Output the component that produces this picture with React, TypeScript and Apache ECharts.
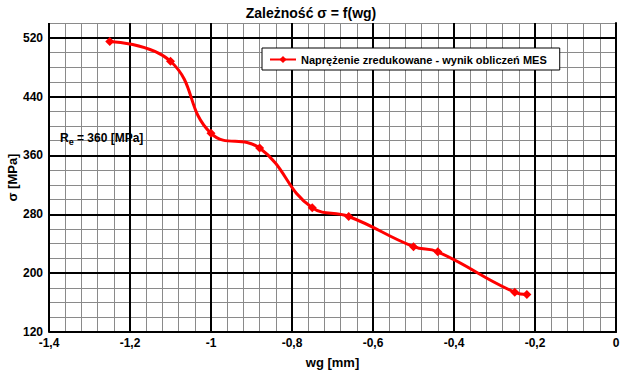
import React, { useEffect, useRef } from "react";
import * as echarts from "echarts";

const xValues = [-1.25, -1.1, -1.0, -0.88, -0.75, -0.66, -0.5, -0.44, -0.25, -0.22];
const yValues = [515, 488, 390, 370, 289, 277, 236, 229, 174, 171];
const seriesName = "Naprężenie zredukowane - wynik obliczeń MES";
const titleText = "Zależność σ = f(wg)";
const xName = "wg [mm]";
const yName = "σ [MPa]";
const FONT = "'Liberation Sans', Arial, sans-serif";

const fmtX = (v: number) => {
  const r = Math.round(v * 100) / 100;
  if (Math.abs(r * 5 - Math.round(r * 5)) > 1e-6) return "";
  return String(Math.round(r * 10) / 10).replace(".", ",");
};
const fmtY = (v: number) => {
  const r = Math.round(v);
  if ((r - 120) % 80 !== 0 || r > 520) return "";
  return String(r);
};

export default function App() {
  const ref = useRef<HTMLDivElement>(null);
  useEffect(() => {
    if (!ref.current) return;
    const chart = echarts.init(ref.current, undefined, { renderer: "svg" });
    chart.setOption({
      animation: false,
      backgroundColor: "#fff",
      textStyle: { fontFamily: FONT },
      title: {
        text: titleText,
        left: "center",
        top: 1,
        textStyle: { fontFamily: FONT, fontSize: 14, fontWeight: "bold", color: "#000" },
      },
      grid: { left: 49, right: 6, top: 23, bottom: 38, containLabel: false, outerBoundsMode: "none" },
      legend: {
        left: 262,
        top: 48,
        padding: [6, 13, 5, 7],
        borderColor: "#000",
        borderWidth: 1,
        backgroundColor: "#fff",
        itemWidth: 26,
        itemHeight: 9,
        itemGap: 5,
        textStyle: { fontFamily: FONT, fontSize: 11, fontWeight: "bold", color: "#000" },
        data: [seriesName],
      },
      xAxis: [
        {
          type: "value",
          min: -1.4,
          max: 0,
          interval: 0.04,
          name: xName,
          nameLocation: "middle",
          nameGap: 24,
          nameMoveOverlap: false,
          nameTextStyle: { fontFamily: FONT, fontSize: 13, fontWeight: "bold", color: "#000" },
          axisLine: { show: true, lineStyle: { color: "#000", width: 2 } },
          axisTick: { show: false },
          axisLabel: {
            formatter: fmtX,
            fontFamily: FONT,
            fontSize: 12,
            fontWeight: "bold",
            color: "#000",
            margin: 5,
            hideOverlap: false,
            interval: 0,
          },
          splitLine: { show: true, lineStyle: { color: "#8a8a8a", width: 1 } },
          z: 0,
        },
        {
          type: "value",
          min: -1.4,
          max: 0,
          interval: 0.2,
          position: "bottom",
          axisLine: { show: false },
          axisTick: { show: false },
          axisLabel: { show: false },
          splitLine: { show: true, lineStyle: { color: "#000", width: 2 } },
          z: 1,
        },
      ],
      yAxis: [
        {
          type: "value",
          min: 120,
          max: 540,
          interval: 20,
          name: yName,
          nameLocation: "middle",
          nameGap: 30,
          nameMoveOverlap: false,
          nameTextStyle: { fontFamily: FONT, fontSize: 13, fontWeight: "bold", color: "#000" },
          axisLine: { show: true, lineStyle: { color: "#000", width: 2 } },
          axisTick: { show: false },
          axisLabel: {
            formatter: fmtY,
            fontFamily: FONT,
            fontSize: 12,
            fontWeight: "bold",
            color: "#000",
            margin: 6,
            interval: 0,
            showMaxLabel: false,
          },
          splitLine: { show: true, lineStyle: { color: "#8a8a8a", width: 1 } },
          z: 0,
        },
        {
          type: "value",
          min: 120,
          max: 540,
          interval: 80,
          position: "left",
          axisLine: { show: false },
          axisTick: { show: false },
          axisLabel: { show: false },
          splitLine: { show: true, showMaxLine: false, lineStyle: { color: "#000", width: 2 } },
          z: 1,
        },
      ],
      graphic: [
        {
          type: "text",
          left: 60,
          top: 131,
          z: 10,
          style: {
            text: "{r|R}{s|e}{r| = 360 [MPa]}",
            rich: {
              r: { fontFamily: FONT, fontSize: 12, fontWeight: "bold", fill: "#000", lineHeight: 16, verticalAlign: "middle" },
              s: { fontFamily: FONT, fontSize: 9, fontWeight: "bold", fill: "#000", lineHeight: 16, verticalAlign: "bottom", padding: [6, 0, 0, 0] },
            },
          },
        },
      ],
      series: [
        {
          name: seriesName,
          type: "line",
          xAxisIndex: 0,
          yAxisIndex: 0,
          data: xValues.map((x, i) => [x, yValues[i]]),
          smooth: 0.45,
          symbol: "diamond",
          symbolSize: 9,
          lineStyle: { color: "#ff0000", width: 3 },
          itemStyle: { color: "#ff0000" },
          z: 5,
        },
      ],
    });
    return () => chart.dispose();
  }, []);
  return <div ref={ref} style={{ width: 622, height: 370, position: "absolute", left: 0, top: 0 }} />;
}
